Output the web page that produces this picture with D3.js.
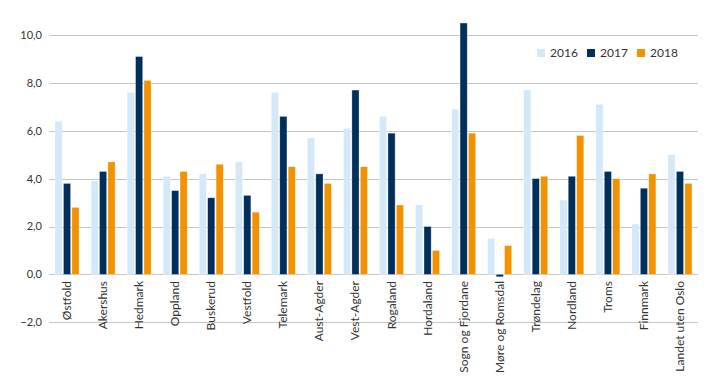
<!DOCTYPE html>
<html>
<head>
<meta charset="utf-8">
<script src="https://cdn.jsdelivr.net/npm/d3@7"></script>
<style>
  body { margin: 0; background: #fff; }
  text { font-family: "Lato", "Liberation Sans", sans-serif; fill: #333; }
</style>
</head>
<body>
<div id="chart"></div>
<script>
var categories = ["Østfold", "Akershus", "Hedmark", "Oppland", "Buskerud", "Vestfold", "Telemark",
    "Aust-Agder", "Vest-Agder", "Rogaland", "Hordaland", "Sogn og Fjordane", "Møre og Romsdal",
    "Trøndelag", "Nordland", "Troms", "Finnmark", "Landet uten Oslo"];
var years = ["2016", "2017", "2018"];
var values2016 = [6.4, 3.9, 7.6, 4.1, 4.2, 4.7, 7.6, 5.7, 6.1, 6.6, 2.9, 6.9, 1.5, 7.7, 3.1, 7.1, 2.1, 5.0];
var values2017 = [3.8, 4.3, 9.1, 3.5, 3.2, 3.3, 6.6, 4.2, 7.7, 5.9, 2.0, 10.5, -0.1, 4.0, 4.1, 4.3, 3.6, 4.3];
var values2018 = [2.8, 4.7, 8.1, 4.3, 4.6, 2.6, 4.5, 3.8, 4.5, 2.9, 1.0, 5.9, 1.2, 4.1, 5.8, 4.0, 4.2, 3.8];
var yTicks = [-2, 0, 2, 4, 6, 8, 10];

var colors = { "2016": "#d3e8f8", "2017": "#002f5c", "2018": "#f39200" };
var series = { "2016": values2016, "2017": values2017, "2018": values2018 };

var width = 719, height = 383;
var margin = { left: 49, right: 21, top: 35, bottom: 61 };

var svg = d3.select("#chart").append("svg")
    .attr("width", width)
    .attr("height", height);

var x = d3.scaleBand()
    .domain(categories)
    .range([margin.left, width - margin.right]);

var y = d3.scaleLinear()
    .domain([-2, 10])
    .range([322.3, 35]);

var xInner = d3.scaleBand()
    .domain(years)
    .range([0, 24])
    .paddingInner(0.15);

// gridlines
svg.append("g")
    .selectAll("line")
    .data(yTicks)
    .enter().append("line")
    .attr("x1", margin.left)
    .attr("x2", width - margin.right)
    .attr("y1", function (d) { return Math.round(y(d)) + 0.5; })
    .attr("y2", function (d) { return Math.round(y(d)) + 0.5; })
    .attr("stroke", "#c6c6c6")
    .attr("stroke-width", 1);

// y labels
svg.append("g")
    .selectAll("text")
    .data(yTicks)
    .enter().append("text")
    .attr("x", 42)
    .attr("y", function (d) { return y(d); })
    .attr("dy", "0.35em")
    .attr("text-anchor", "end")
    .style("font-size", "11px")
    .text(function (d) { return d3.format(".1f")(d).replace(".", ","); });

// bars
var groups = svg.append("g")
    .selectAll("g")
    .data(categories)
    .enter().append("g")
    .attr("transform", function (d) { return "translate(" + (x(d) + x.bandwidth() / 2 - 12) + ",0)"; });

groups.selectAll("rect")
    .data(function (d, i) {
        return years.map(function (yr) { return { year: yr, value: series[yr][i] }; });
    })
    .enter().append("rect")
    .attr("x", function (d) { return xInner(d.year); })
    .attr("width", xInner.bandwidth())
    .attr("y", function (d) { return y(Math.max(0, d.value)); })
    .attr("height", function (d) { return Math.abs(y(d.value) - y(0)); })
    .attr("fill", function (d) { return colors[d.year]; })
    .attr("stroke", "rgba(255,255,255,0.5)")
    .attr("stroke-width", 0.6);

// category labels
svg.append("g")
    .selectAll("text")
    .data(categories)
    .enter().append("text")
    .attr("transform", function (d) {
        return "translate(" + (x(d) + x.bandwidth() / 2 + 4) + ",281) rotate(-90)";
    })
    .attr("text-anchor", "end")
    .style("font-size", "12px")
    .text(function (d) { return d; });

// legend
var legendX = [537, 587, 637];
var legend = svg.append("g")
    .selectAll("g")
    .data(years)
    .enter().append("g")
    .attr("transform", function (d, i) { return "translate(" + legendX[i] + ",49)"; });

legend.append("rect")
    .attr("width", 8)
    .attr("height", 8)
    .attr("fill", function (d) { return colors[d]; });

legend.append("text")
    .attr("x", 13)
    .attr("y", 4)
    .attr("dy", "0.35em")
    .style("font-size", "12px")
    .text(function (d) { return d; });
</script>
</body>
</html>
